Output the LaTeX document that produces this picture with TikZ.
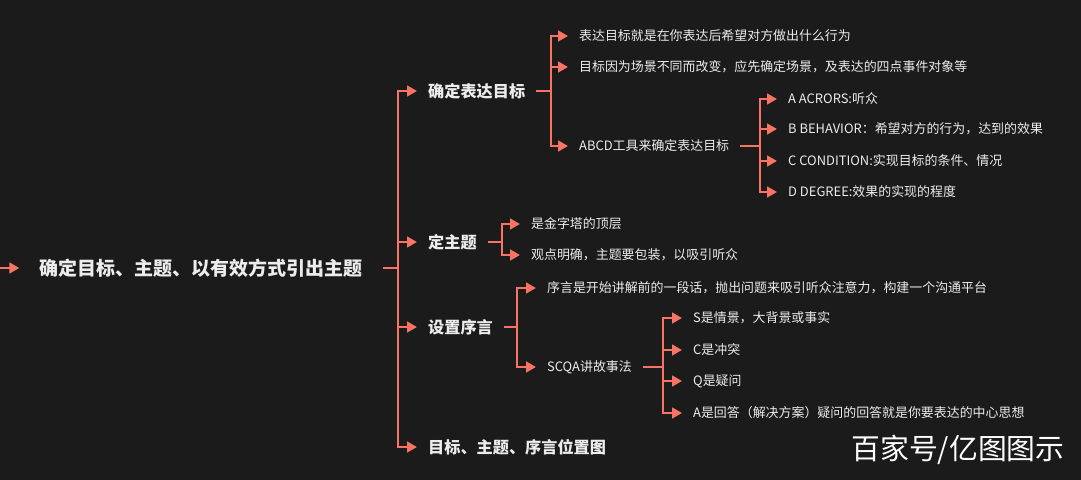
\documentclass[tikz,border=0pt]{standalone}
\usepackage{fontspec}
\setmainfont{Noto Sans CJK SC}
\usetikzlibrary{arrows.meta,positioning}
\definecolor{bgdark}{RGB}{27,27,27}
\definecolor{branch}{RGB}{250,116,100}
\definecolor{txt}{RGB}{236,236,236}

\begin{document}
\begin{tikzpicture}[x=0.025cm,y=-0.025cm,>={Triangle[length=7pt,width=7.5pt]},
  line width=1.9pt, draw=branch,
  root/.style={inner xsep=13.5pt,inner ysep=2pt,text=txt,font=\fontsize{13.5}{15}\selectfont\bfseries},
  topic/.style={anchor=west,inner xsep=7pt,inner ysep=2pt,text=txt,font=\fontsize{11.5}{13}\selectfont\bfseries},
  leaf/.style={anchor=west,inner xsep=7pt,inner ysep=2pt,text=txt,font=\fontsize{9.2}{11}\selectfont},
  spine/.style={line cap=rect}]
\fill[bgdark] (0,0) rectangle (1081,480);
\useasboundingbox (0,0) rectangle (1081,480);

% root
\coordinate (in) at (0,268);
\node[root] (root) at (201,268) {确定目标、主题、以有效方式引出主题};
\draw[->] (in) -- (root);

% first level
\node[topic] (t1) at (417,91) {确定表达目标};
\node[topic] (t2) at (417,242) {定主题};
\node[topic] (t3) at (417,327) {设置序言};
\node[topic] (t4) at (417,447) {目标、主题、序言位置图};
\coordinate (s0) at (398,268);
\draw (root) -- (s0);
\draw[spine] (s0 |- t1) -- (s0 |- t4);
\foreach \n in {t1,t2,t3,t4}
  \draw[->] (s0 |- \n) -- (\n);

% 确定表达目标
\node[leaf] (a1) at (568,36) {表达目标就是在你表达后希望对方做出什么行为};
\node[leaf] (a2) at (568,67) {目标因为场景不同而改变，应先确定场景，及表达的四点事件对象等};
\node[leaf] (a3) at (568,146) {ABCD工具来确定表达目标};
\coordinate (s1) at (551,91);
\draw (t1) -- (s1);
\draw[spine] (s1 |- a1) -- (s1 |- a3);
\foreach \n in {a1,a2,a3}
  \draw[->] (s1 |- \n) -- (\n);

% ABCD
\node[leaf] (d1) at (777,99) {A ACRORS:听众};
\node[leaf] (d2) at (777,129) {B BEHAVIOR：希望对方的行为，达到的效果};
\node[leaf] (d3) at (777,161) {C CONDITION:实现目标的条件、情况};
\node[leaf] (d4) at (777,192) {D DEGREE:效果的实现的程度};
\coordinate (s2) at (760,146);
\draw (a3) -- (s2);
\draw[spine] (s2 |- d1) -- (s2 |- d4);
\foreach \n in {d1,d2,d3,d4}
  \draw[->] (s2 |- \n) -- (\n);

% 定主题
\node[leaf] (b1) at (520,224) {是金字塔的顶层};
\node[leaf] (b2) at (520,255) {观点明确，主题要包装，以吸引听众};
\coordinate (s3) at (502,242);
\draw (t2) -- (s3);
\draw[spine] (s3 |- b1) -- (s3 |- b2);
\foreach \n in {b1,b2}
  \draw[->] (s3 |- \n) -- (\n);

% 设置序言
\node[leaf] (c1) at (536,288) {序言是开始讲解前的一段话，抛出问题来吸引听众注意力，构建一个沟通平台};
\node[leaf] (c2) at (536,367) {SCQA讲故事法};
\coordinate (s4) at (517,327);
\draw (t3) -- (s4);
\draw[spine] (s4 |- c1) -- (s4 |- c2);
\foreach \n in {c1,c2}
  \draw[->] (s4 |- \n) -- (\n);

% SCQA
\node[leaf] (q1) at (682,318) {S是情景，大背景或事实};
\node[leaf] (q2) at (682,350) {C是冲突};
\node[leaf] (q3) at (682,381) {Q是疑问};
\node[leaf] (q4) at (682,413) {A是回答（解决方案）疑问的回答就是你要表达的中心思想};
\coordinate (s5) at (663,367);
\draw (c2) -- (s5);
\draw[spine] (s5 |- q1) -- (s5 |- q4);
\foreach \n in {q1,q2,q3,q4}
  \draw[->] (s5 |- \n) -- (\n);

% watermark
\node[text=white,font=\fontsize{20.5}{24}\selectfont] (mark) at (958,450) {百家号/亿图图示};
\end{tikzpicture}
\end{document}
